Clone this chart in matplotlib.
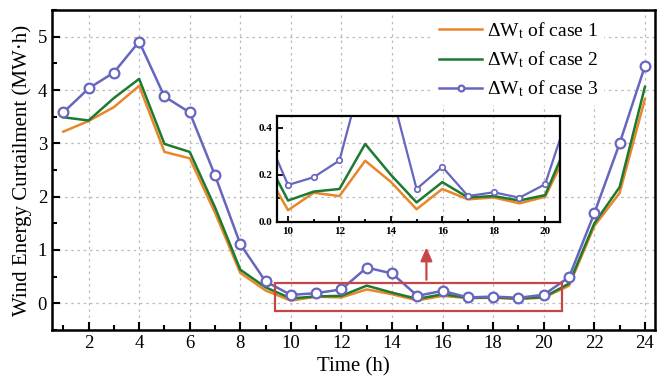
import numpy as np
import matplotlib
matplotlib.use("Agg")
import matplotlib.pyplot as plt
from matplotlib.patches import Rectangle
from matplotlib.ticker import MultipleLocator

plt.rcParams["font.family"] = ["Liberation Serif", "DejaVu Serif"]
plt.rcParams["mathtext.fontset"] = "stix"

hours = np.arange(1, 25)
case1 = [3.22, 3.42, 3.68, 4.08, 2.84, 2.72, 1.70, 0.57, 0.24, 0.05, 0.124, 0.11,
         0.26, 0.17, 0.054, 0.14, 0.096, 0.104, 0.079, 0.107, 0.33, 1.45, 2.07, 3.83]
case2 = [3.49, 3.43, 3.85, 4.21, 2.99, 2.84, 1.80, 0.63, 0.30, 0.091, 0.129, 0.14,
         0.331, 0.20, 0.083, 0.169, 0.104, 0.11, 0.091, 0.114, 0.37, 1.50, 2.18, 4.06]
case3 = [3.58, 4.03, 4.33, 4.91, 3.88, 3.58, 2.40, 1.11, 0.41, 0.157, 0.19, 0.261,
         0.67, 0.56, 0.14, 0.234, 0.11, 0.126, 0.103, 0.16, 0.49, 1.69, 3.00, 4.45]
labels = [r"ΔW$_{\mathrm{t}}$ of case 1", r"ΔW$_{\mathrm{t}}$ of case 2",
          r"ΔW$_{\mathrm{t}}$ of case 3"]

c_orange = "#E8872A"
c_green = "#1E7A30"
c_blue = "#6666C0"

fig = plt.figure(figsize=(6.57, 3.9), dpi=100)
ax = fig.add_axes([0.079, 0.154, 0.918, 0.82])

ax.plot(hours, case1, color=c_orange, lw=1.8, label=labels[0], zorder=3)
ax.plot(hours, case2, color=c_green, lw=1.8, label=labels[1], zorder=3)
ax.plot(hours, case3, color=c_blue, lw=1.8, marker="o", ms=7, mfc="white",
        mec=c_blue, mew=1.6, label=labels[2], zorder=4)

ax.set_xlim(0.55, 24.4)
ax.set_ylim(-0.5, 5.5)
ax.xaxis.set_major_locator(MultipleLocator(2))
ax.xaxis.set_minor_locator(MultipleLocator(1))
ax.yaxis.set_major_locator(MultipleLocator(1))
ax.yaxis.set_minor_locator(MultipleLocator(0.5))
ax.tick_params(which="both", direction="in", width=1.5, labelsize=13.5)
ax.tick_params(which="major", length=6)
ax.tick_params(which="minor", length=3.5)
ax.grid(True, which="major", ls=(0, (2, 3)), color="#BBBBBB", lw=0.9)
for s in ax.spines.values():
    s.set_linewidth(1.8)
ax.set_xlabel("Time (h)", fontsize=15)
ax.set_ylabel("Wind Energy Curtailment (MW·h)", fontsize=15)

leg = ax.legend(loc="upper right", bbox_to_anchor=(0.922, 1.0), fontsize=14,
                frameon=True, framealpha=1, edgecolor="none", fancybox=False,
                handlelength=2.2, handletextpad=0.25, borderaxespad=0.2,
                labelspacing=0.45, markerscale=0.6, borderpad=0.3)
leg.set_zorder(6)

ax.add_patch(Rectangle((9.36, -0.14), 11.36, 0.53, fill=False,
                       edgecolor="#C84545", lw=1.6, zorder=5))
ax.annotate("", xy=(15.36, 1.1), xytext=(15.36, 0.39),
            arrowprops=dict(arrowstyle="-|>,head_length=0.8,head_width=0.35",
                            color="#C84545", lw=1.6), zorder=5)

ins = fig.add_axes([0.4216, 0.4308, 0.4308, 0.272])
ins.set_facecolor("none")
ins.plot(hours, case1, color=c_orange, lw=1.8)
ins.plot(hours, case2, color=c_green, lw=1.8)
ins.plot(hours, case3, color=c_blue, lw=1.6, marker="o", ms=4, mfc="white",
         mec=c_blue, mew=1.2)
ins.set_xlim(9.57, 20.58)
ins.set_ylim(0, 0.45)
ins.xaxis.set_major_locator(MultipleLocator(2))
ins.xaxis.set_minor_locator(MultipleLocator(1))
ins.yaxis.set_major_locator(MultipleLocator(0.2))
ins.yaxis.set_minor_locator(MultipleLocator(0.1))
ins.tick_params(which="both", direction="in", width=1.3, labelsize=8)
ins.tick_params(which="major", length=4)
ins.tick_params(which="minor", length=2.5)
for lab in ins.get_xticklabels() + ins.get_yticklabels():
    lab.set_fontweight("bold")
for s in ins.spines.values():
    s.set_linewidth(1.6)

fig.savefig("out.png", dpi=100)
